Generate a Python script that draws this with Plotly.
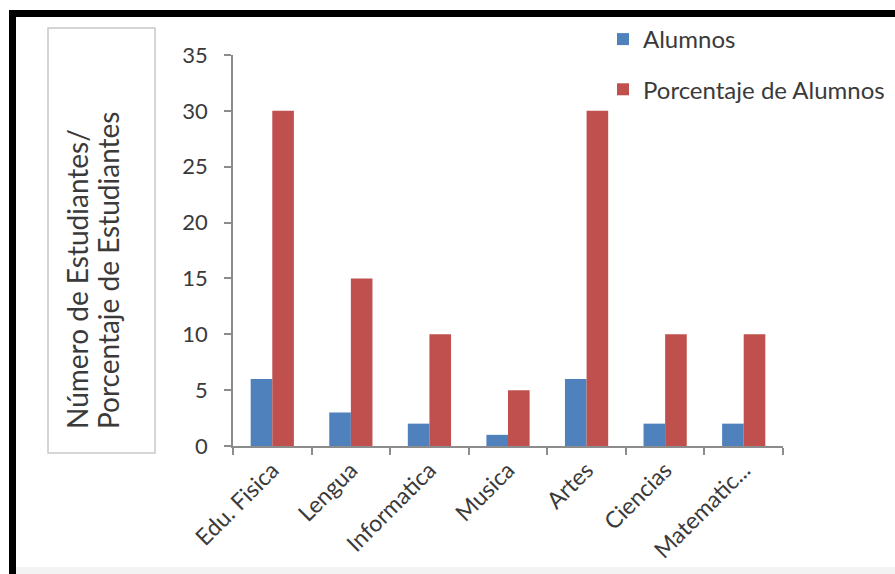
import plotly.graph_objects as go

# Subjects and values per subject
materias = ["Edu. Fisica", "Lengua", "Informatica", "Musica", "Artes", "Ciencias", "Matematic..."]
alumnos = [6, 3, 2, 1, 6, 2, 2]
porcentaje = [30, 15, 10, 5, 30, 10, 10]
y_ticks = [0, 5, 10, 15, 20, 25, 30, 35]
titulo = ["Número de Estudiantes/", "Porcentaje de Estudiantes"]

W, H = 895, 574
# Plot-area edges in pixels
L, R, T, B = 233, 783, 55, 446

def px(x):
    return (x - L) / (R - L)

def py(y):
    return (B - y) / (B - T)

FONT = "Lato, Open Sans, sans-serif"
TXT = "#3a3a3a"
AX = "#8c8c8c"

fig = go.Figure()
fig.add_trace(go.Bar(x=materias, y=alumnos, name="Alumnos",
                     marker=dict(color="#4F81BD", line=dict(width=0)),
                     legendgroup="a"))
fig.add_trace(go.Bar(x=materias, y=porcentaje, name="Porcentaje de Alumnos",
                     marker=dict(color="#C0504D", line=dict(width=0)),
                     legendgroup="b"))

shapes = [
    # frame around the axis title
    dict(type="rect", xref="paper", yref="paper",
         x0=px(48), x1=px(155), y0=py(453), y1=py(28),
         line=dict(color="#c8c8c8", width=1.5), fillcolor="white", layer="below"),
    # heavy black rules on top and left
    dict(type="rect", xref="paper", yref="paper",
         x0=px(9), x1=px(W + 5), y0=py(17), y1=py(10),
         line=dict(width=0), fillcolor="black"),
    dict(type="rect", xref="paper", yref="paper",
         x0=px(9), x1=px(16), y0=py(H + 5), y1=py(10),
         line=dict(width=0), fillcolor="black"),
    # faint band along the bottom
    dict(type="rect", xref="paper", yref="paper",
         x0=px(16), x1=px(W + 5), y0=py(H + 5), y1=py(567),
         line=dict(width=0), fillcolor="#f3f3f3", layer="below"),
]

# two-line rotated axis title, both lines starting at the same baseline end
annotations = [
    dict(xref="paper", yref="paper", x=px(cx), y=py(431),
         xanchor="center", yanchor="bottom",
         text=linea, textangle=-90, showarrow=False,
         font=dict(family=FONT, size=28, color=TXT))
    for cx, linea in zip([77, 108], titulo)
]

fig.update_layout(
    width=W, height=H,
    margin=dict(l=L, r=W - R, t=T, b=H - B, pad=0, autoexpand=False),
    paper_bgcolor="white", plot_bgcolor="white",
    barmode="group", bargap=0.45, bargroupgap=0,
    font=dict(family=FONT, color=TXT, size=19),
    shapes=shapes, annotations=annotations,
    legend=dict(xref="container", yref="container",
                x=603 / W, y=1 - 17 / H, xanchor="left", yanchor="top",
                font=dict(family=FONT, size=24, color=TXT),
                tracegroupgap=16, traceorder="grouped",
                bgcolor="rgba(0,0,0,0)"),
    xaxis=dict(type="category", tickangle=-45, tickson="boundaries",
               ticks="outside", ticklen=7, tickcolor=AX, tickwidth=1.5,
               showline=True, linecolor=AX, linewidth=1.5,
               showgrid=False, tickfont=dict(family=FONT, size=23, color=TXT),
               range=[-0.5, 6.5], fixedrange=True),
    yaxis=dict(range=[0, 35], tickvals=y_ticks, ticks="outside", ticklen=7,
               tickcolor=AX, tickwidth=1.5, showline=True, linecolor=AX,
               linewidth=1.5, showgrid=False, zeroline=False,
               ticklabelstandoff=12,
               tickfont=dict(family=FONT, size=22, color=TXT)),
)

fig.write_html("out.html")
